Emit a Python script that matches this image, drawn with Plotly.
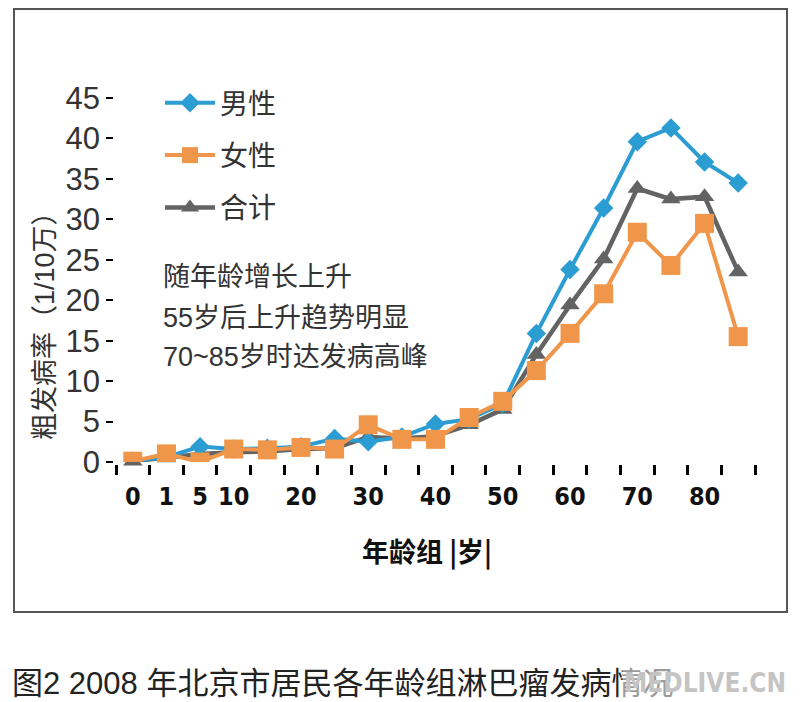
import plotly.graph_objects as go

age_groups = ["0", "1", "5", "10", "15", "20", "25", "30", "35", "40",
              "45", "50", "55", "60", "65", "70", "75", "80", "85"]
male = [0.1, 0.6, 1.9, 1.6, 1.7, 1.9, 2.9, 2.5, 3.1, 4.7,
        5.3, 7.2, 15.9, 23.8, 31.4, 39.6, 41.3, 37.1, 34.5]
female = [0.1, 1.0, 0.0, 1.6, 1.5, 1.8, 1.6, 4.6, 2.8, 2.8,
          5.5, 7.5, 11.3, 15.9, 20.8, 28.4, 24.3, 29.5, 15.5]
total = [0.1, 0.5, 1.0, 1.2, 1.3, 1.6, 1.7, 3.1, 2.9, 3.2,
         4.6, 6.5, 13.3, 19.4, 25.1, 33.8, 32.5, 32.8, 23.5]
shown_labels = ["0", "1", "5", "10", "20", "30", "40", "50", "60", "70", "80"]
y_ticks = [0, 5, 10, 15, 20, 25, 30, 35, 40, 45]

xpos = list(range(len(age_groups)))
label_pos = [age_groups.index(s) for s in shown_labels]

BLUE = "#2b9dd3"
ORANGE = "#f0964a"
GREY = "#636363"
CJK = "Noto Sans CJK SC"
MIX = "Liberation Sans, Noto Sans CJK SC"

fig = go.Figure()
fig.add_trace(go.Scatter(
    x=xpos, y=male, name="男性", mode="lines+markers", legendgroup="m",
    line=dict(color=BLUE, width=4),
    marker=dict(symbol="diamond", size=15, color=BLUE),
    zorder=2, cliponaxis=False))
fig.add_trace(go.Scatter(
    x=xpos, y=female, name="女性", mode="lines+markers", legendgroup="f",
    line=dict(color=ORANGE, width=4),
    marker=dict(symbol="square", size=19, color=ORANGE),
    zorder=3, cliponaxis=False))
fig.add_trace(go.Scatter(
    x=xpos, y=total, name="合计", mode="lines+markers", legendgroup="t",
    line=dict(color=GREY, width=4.5),
    marker=dict(symbol="triangle-up", size=17, color=GREY),
    zorder=1, cliponaxis=False))

W, H = 800, 702
L, R, T, B = 116, 45, 98, 240
pw, ph = W - L - R, H - T - B


def px(xp):
    return (xp - L) / pw


def py(yp):
    return (H - B - yp) / ph


fig.update_layout(
    width=W, height=H, autosize=False,
    margin=dict(l=L, r=R, t=T, b=B),
    paper_bgcolor="white", plot_bgcolor="white",
    font=dict(family=MIX, color="#222"),
    showlegend=True,
    legend=dict(
        x=px(160), y=py(78), xanchor="left", yanchor="top",
        font=dict(size=28, color="#333", family=CJK),
        traceorder="grouped", tracegroupgap=13, itemwidth=50,
        bgcolor="rgba(0,0,0,0)"),
    xaxis=dict(
        range=[-0.5, len(age_groups) - 0.5],
        tickmode="array", tickvals=label_pos, ticktext=shown_labels,
        ticks="", showgrid=False, zeroline=False,
        showline=True, linecolor="black", linewidth=3,
        ticklabelstandoff=10,
        tickfont=dict(size=25, color="#111", family="DejaVu Sans Condensed",
                      weight="bold"),
        minor=dict(tickmode="linear", tick0=0.5, dtick=1, ticks="outside",
                   ticklen=10, tickwidth=2.5, tickcolor="black", showgrid=False),
    ),
    yaxis=dict(
        range=[0, 45], tickmode="array", tickvals=y_ticks,
        ticks="outside", ticklen=7, tickwidth=2, tickcolor="black",
        showgrid=False, zeroline=False,
        showline=True, linecolor="black", linewidth=2.5,
        tickfont=dict(size=31, color="#333", family="Liberation Sans"),
    ),
)

# frame around the chart
fig.add_shape(type="rect", xref="paper", yref="paper",
              x0=px(14), x1=px(787), y0=py(612), y1=py(9),
              line=dict(color="#555", width=2), fillcolor="rgba(0,0,0,0)",
              layer="below")

# y-axis title
fig.add_annotation(text="粗发病率（1/10万）", xref="paper", yref="paper",
                   x=px(45), y=py(319), xanchor="center", yanchor="middle",
                   textangle=-90, showarrow=False,
                   font=dict(size=27, color="#333", family=MIX))
# x-axis title
fig.add_annotation(text="<b>年龄组 |岁|</b>", xref="paper", yref="paper",
                   x=px(427), y=py(550), xanchor="center", yanchor="middle",
                   showarrow=False,
                   font=dict(size=27, color="#111", family=CJK))

notes = ["随年龄增长上升", "55岁后上升趋势明显", "70~85岁时达发病高峰"]
note_y = [277, 318, 357]
for t, yy in zip(notes, note_y):
    fig.add_annotation(text=t, xref="paper", yref="paper",
                       x=px(161), y=py(yy), xanchor="left", yanchor="middle",
                       showarrow=False,
                       font=dict(size=27, color="#333", family=MIX))

# caption
fig.add_annotation(text="图2 2008 年北京市居民各年龄组淋巴瘤发病情况",
                   xref="paper", yref="paper", x=px(10), y=py(683),
                   xanchor="left", yanchor="middle", showarrow=False,
                   font=dict(size=31, color="#222", family=MIX))
fig.add_annotation(text="<b>MEDLIVE.CN</b>", xref="paper", yref="paper",
                   x=px(788), y=py(683), xanchor="right", yanchor="middle",
                   showarrow=False, bgcolor="rgba(255,255,255,0.55)",
                   font=dict(size=26, color="#c4c4c4", family="DejaVu Sans Condensed"))

fig.write_html("out.html", config={"displayModeBar": False},
               post_script="document.body.style.margin='0';document.body.style.padding='0';")
